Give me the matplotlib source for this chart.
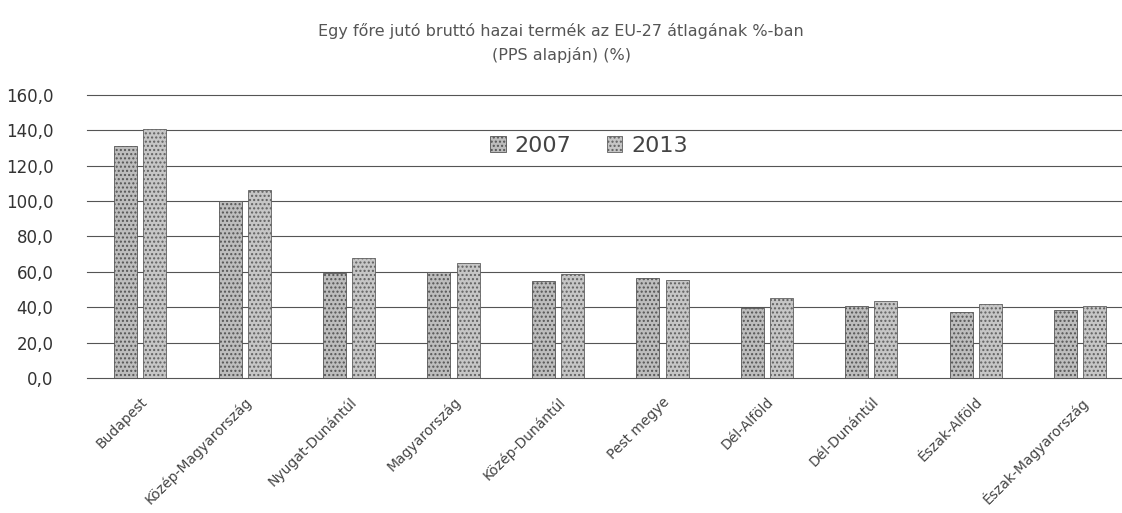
import numpy as np
import matplotlib
matplotlib.use("Agg")
import matplotlib.pyplot as plt
from matplotlib.ticker import FuncFormatter

# regions (hungarian names as in the original chart)
regions = ["Budapest", "Közép-Magyarország", "Nyugat-Dunántúl", "Magyarország",
           "Közép-Dunántúl", "Pest megye", "Dél-Alföld", "Dél-Dunántúl",
           "Észak-Alföld", "Észak-Magyarország"]
gdp_2007 = [131.0, 100.0, 59.3, 59.7, 55.0, 56.5, 39.7, 40.5, 37.3, 38.4]
gdp_2013 = [140.5, 106.0, 68.0, 65.3, 58.6, 55.6, 45.3, 43.8, 41.6, 40.7]
series_labels = ["2007", "2013"]
y_ticks = [0, 20, 40, 60, 80, 100, 120, 140, 160]

title_text = "Egy főre jutó bruttó hazai termék az EU-27 átlagának %-ban\n(PPS alapján) (%)"


def plot_gdp_chart():
    fig = plt.figure(figsize=(11.22, 5.13), dpi=100)
    ax = fig.add_axes([0.0775, 0.263, 0.9225, 0.552])

    x = np.arange(len(regions))
    width = 0.22
    offset = 0.14

    # dithered grey bars, emulated with a dot hatch
    ax.bar(x - offset, gdp_2007, width, label=series_labels[0], color="#bdbdbd",
           edgecolor="#555555", hatch="....", linewidth=0.6, zorder=3)
    ax.bar(x + offset, gdp_2013, width, label=series_labels[1], color="#c6c6c6",
           edgecolor="#606060", hatch="....", linewidth=0.6, zorder=3)

    ax.set_ylim(0, 160)
    ax.set_xlim(-0.51, 9.40)
    ax.set_yticks(y_ticks)
    ax.yaxis.set_major_formatter(FuncFormatter(lambda v, p: f"{v:.1f}".replace(".", ",")))
    ax.tick_params(axis="y", length=0, pad=24, labelsize=12, labelcolor="#333333")

    ax.set_xticks(x)
    ax.set_xticklabels(regions, rotation=45, ha="right", rotation_mode="anchor",
                       fontsize=10, color="#444444")
    ax.tick_params(axis="x", length=0, pad=12)

    ax.grid(axis="y", color="#555555", linewidth=0.8, zorder=0)
    for side in ["top", "right", "left", "bottom"]:
        ax.spines[side].set_visible(False)
    for line in ax.get_ygridlines():
        line.set_clip_on(False)

    ax.legend(loc="center", bbox_to_anchor=(0.485, 0.82), ncol=2, frameon=False,
              fontsize=16, handlelength=0.7, handleheight=0.7, columnspacing=1.6,
              handletextpad=0.4, labelcolor="#444444")

    fig.text(0.5, 0.955, title_text, ha="center", va="top", fontsize=11.5,
             color="#555555", linespacing=1.6)

    fig.savefig("out.png", dpi=100)


if __name__ == "__main__":
    plot_gdp_chart()
